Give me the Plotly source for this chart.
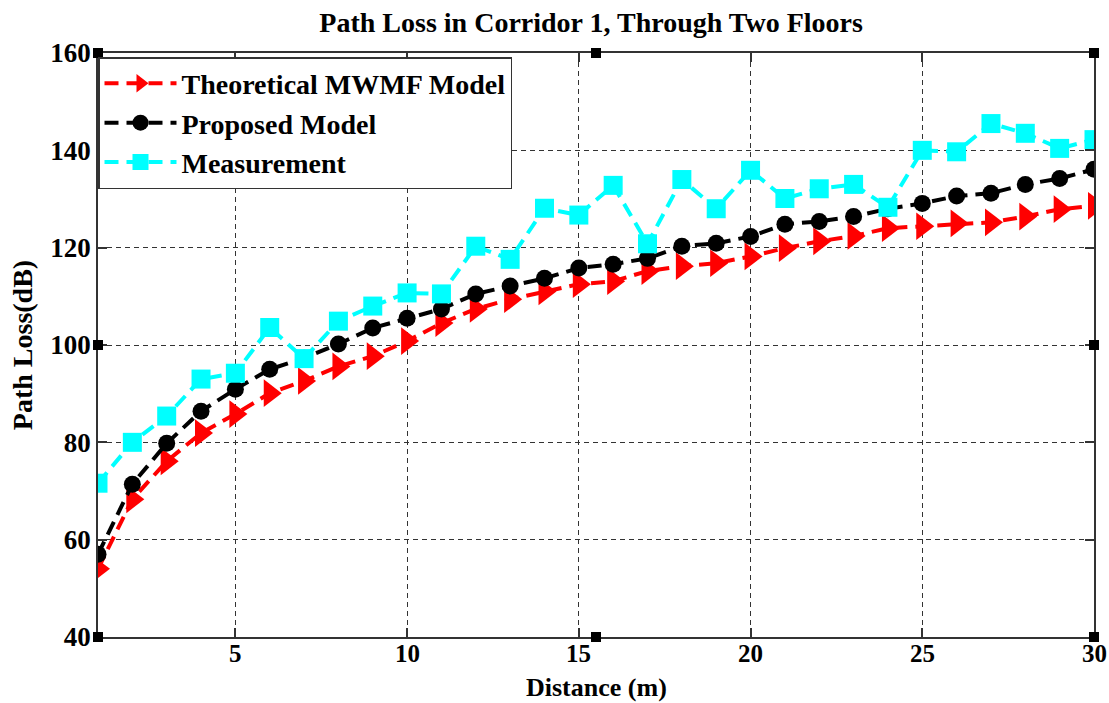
import plotly.graph_objects as go

distance = list(range(1, 31))
theoretical_mwmf = [54.0, 68.3, 76.1, 81.9, 85.8, 90.1, 92.6, 95.6, 97.7, 100.8,
                    104.5, 107.4, 109.4, 111.0, 112.5, 113.1, 115.2, 116.2, 116.8, 118.2,
                    119.9, 121.3, 122.4, 124.0, 124.4, 125.0, 125.2, 126.4, 127.9, 128.6]
proposed_model = [57.0, 71.4, 79.8, 86.4, 90.9, 95.0, 97.3, 100.2, 103.5, 105.5,
                  107.4, 110.5, 112.1, 113.7, 115.8, 116.6, 117.8, 120.3, 120.9, 122.3,
                  124.8, 125.4, 126.4, 128.0, 129.1, 130.6, 131.2, 133.0, 134.2, 136.1]
measurement = [71.6, 80.0, 85.4, 93.0, 94.2, 103.6, 97.2, 104.9, 108.0, 110.7,
               110.5, 120.3, 117.6, 128.1, 126.7, 132.8, 120.8, 134.0, 128.0, 135.9,
               130.1, 132.1, 133.0, 128.3, 140.0, 139.7, 145.5, 143.5, 140.4, 142.2]

x_ticks = [5, 10, 15, 20, 25, 30]
y_ticks = [40, 60, 80, 100, 120, 140, 160]

FONT = "Liberation Serif"
FS = 28

fig = go.Figure()
fig.add_trace(go.Scatter(
    x=distance, y=theoretical_mwmf, mode="lines+markers", name="Theoretical MWMF Model",
    line=dict(color="#FF0000", width=4, dash="14px,8px"),
    marker=dict(symbol="triangle-right", size=24, color="#FF0000")))
fig.add_trace(go.Scatter(
    x=distance, y=proposed_model, mode="lines+markers", name="Proposed Model",
    line=dict(color="#000000", width=4, dash="14px,8px"),
    marker=dict(symbol="circle", size=17, color="#000000")))
fig.add_trace(go.Scatter(
    x=distance, y=measurement, mode="lines+markers", name="Measurement",
    line=dict(color="#00FFFF", width=4, dash="14px,8px"),
    marker=dict(symbol="square", size=19, color="#00FFFF")))

axis_common = dict(
    showline=True, linecolor="#333333", linewidth=1.5, mirror="allticks",
    ticks="inside", ticklen=9, tickcolor="#333333", tickwidth=1.5,
    showgrid=True, gridcolor="#333333", gridwidth=1, griddash="5px,4px",
    zeroline=False, automargin=False,
)

fig.update_xaxes(range=[1, 30], tickvals=x_ticks, showticklabels=False, **axis_common)
fig.update_yaxes(range=[40, 160], tickvals=y_ticks, **axis_common,
                 tickfont=dict(family=FONT, size=27, color="black", weight="bold"),
                 title=dict(text="<b>Path Loss(dB)</b>", font=dict(family=FONT, size=FS, color="black"),
                            standoff=10))

# figure-editor selection handles around the axes box
handles = [(0, 0), (0.5, 0), (1, 0), (0, 0.5), (1, 0.5), (0, 1), (0.5, 1), (1, 1)]
shapes = []
for hx, hy in handles:
    shapes.append(dict(type="rect", xref="paper", yref="paper",
                       xsizemode="pixel", ysizemode="pixel",
                       xanchor=hx, yanchor=hy, x0=-5, x1=5, y0=-5, y1=5,
                       fillcolor="black", line=dict(width=0)))

plot_h = 703 - 53 - 66
annotations = []
# x tick labels, placed tight under the axis as in the reference
for t in x_ticks:
    annotations.append(dict(text="<b>%d</b>" % t, xref="x", yref="paper",
                            x=t, y=-(639 - 637) / plot_h, xanchor="center", yanchor="top",
                            showarrow=False, borderpad=0,
                            font=dict(family=FONT, size=25, color="black")))
annotations.append(dict(text="<b>Distance (m)</b>", xref="paper", yref="paper",
                        x=0.5, y=-(703 - 637) / plot_h, xanchor="center", yanchor="bottom",
                        showarrow=False, borderpad=0,
                        font=dict(family=FONT, size=26, color="black")))

fig.update_layout(
    width=1109, height=703,
    margin=dict(l=98, r=15, t=53, b=66),
    paper_bgcolor="white", plot_bgcolor="white",
    title=dict(text="<b>Path Loss in Corridor 1, Through Two Floors</b>",
               x=0.533, xanchor="center", y=1 - 22 / 703, yanchor="middle", yref="container",
               font=dict(family=FONT, size=FS, color="black")),
    legend=dict(x=0.0, y=0.993, xanchor="left", yanchor="top",
                bgcolor="white", bordercolor="#333333", borderwidth=1.5,
                font=dict(family=FONT, size=FS, color="black", weight="bold"),
                itemwidth=72, tracegroupgap=0),
    annotations=annotations,
    shapes=shapes,
    showlegend=True,
)

fig.write_html("out.html")
